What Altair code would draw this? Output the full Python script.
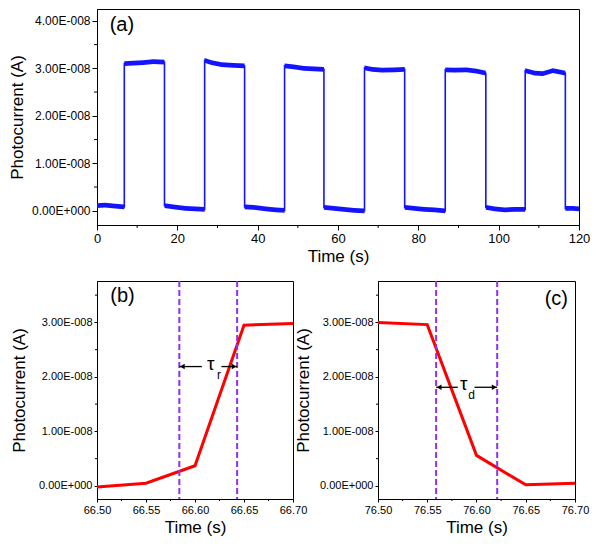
import altair as alt
import pandas as pd

# ---------------- data (photocurrent in units of 1E-8 A) ----------------
# Panel (a): on/off plateau segments – times (s) and band-centre values
seg_times = [
    [0.0, 2.0, 4.5, 6.8],
    [6.8, 9.0, 11.5, 14.0, 16.8],
    [16.8, 19.0, 22.0, 24.5, 26.8],
    [26.8, 28.5, 31.0, 34.0, 36.75],
    [36.75, 39.0, 42.0, 44.5, 46.7],
    [46.7, 49.0, 51.5, 54.0, 56.5],
    [56.5, 59.0, 61.5, 64.0, 66.6],
    [66.6, 68.5, 71.0, 74.0, 76.6],
    [76.6, 79.0, 81.5, 84.0, 86.7],
    [86.7, 89.0, 92.0, 94.5, 96.8],
    [96.8, 99.0, 101.5, 104.0, 106.6],
    [106.6, 109.0, 111.0, 113.5, 116.6],
    [116.6, 118.5, 120.0],
]
seg_values = [
    [0.11, 0.12, 0.10, 0.08],
    [3.10, 3.11, 3.12, 3.14, 3.13],
    [0.11, 0.08, 0.05, 0.04, 0.03],
    [3.17, 3.12, 3.08, 3.06, 3.05],
    [0.08, 0.07, 0.04, 0.02, 0.01],
    [3.05, 3.03, 3.00, 2.99, 2.98],
    [0.07, 0.05, 0.03, 0.01, 0.00],
    [3.01, 2.98, 2.96, 2.97, 2.98],
    [0.07, 0.05, 0.03, 0.02, 0.00],
    [2.97, 2.96, 2.97, 2.94, 2.90],
    [0.07, 0.04, 0.02, 0.03, 0.03],
    [2.95, 2.90, 2.89, 2.95, 2.90],
    [0.05, 0.05, 0.04],
]
noise_half = 0.05  # half-thickness of the noise band

# Panel (b): rise
rise_t = [66.50, 66.55, 66.60, 66.65, 66.70]
rise_v = [-0.02, 0.05, 0.37, 2.95, 2.98]
rise_marks = [66.584, 66.643]
rise_arrow_y = 2.19
rise_arrow_left = [66.584, 66.607]
rise_arrow_right = [66.627, 66.643]

# Panel (c): decay
fall_t = [76.50, 76.55, 76.60, 76.65, 76.70]
fall_v = [3.00, 2.96, 0.56, 0.02, 0.05]
fall_marks = [76.559, 76.621]
fall_arrow_y = 1.81
fall_arrow_left = [76.559, 76.581]
fall_arrow_right = [76.598, 76.621]

# ticks
top_x_major = [0, 20, 40, 60, 80, 100, 120]
top_x_minor = [10, 30, 50, 70, 90, 110]
top_y_major = [0, 1, 2, 3, 4]
y_minor = [0.5, 1.5, 2.5, 3.5]
b_x_major = [66.50, 66.55, 66.60, 66.65, 66.70]
b_x_minor = [66.525, 66.575, 66.625, 66.675]
c_x_major = [76.50, 76.55, 76.60, 76.65, 76.70]
c_x_minor = [76.525, 76.575, 76.625, 76.675]
b_y_major = [0, 1, 2, 3]

FONT = "Liberation Sans"
BLUE = "#1414ff"
RED = "#ff0000"
PURPLE = "#9030f5"
LABEL_EXPR = "datum.value == 0 ? '0.00E+000' : format(datum.value, '.2f') + 'E-008'"


def make_axes(xvals, yvals, xfmt, xlab, ylab, tick, ytitlepad, xtitlepad):
    xax = alt.Axis(values=xvals, format=xfmt, title="Time (s)", grid=False,
                   labelFont=FONT, titleFont=FONT, labelFontSize=xlab,
                   titleFontSize=17, titleFontWeight="normal", labelColor="black",
                   titleColor="black", domainColor="black", tickColor="black",
                   tickSize=tick, labelPadding=2, titlePadding=xtitlepad,
                   labelFlush=False, labelOverlap=False)
    yax = alt.Axis(values=yvals, labelExpr=LABEL_EXPR, title="Photocurrent (A)",
                   grid=False, labelFont=FONT, titleFont=FONT, labelFontSize=ylab,
                   titleFontSize=17, titleFontWeight="normal", labelColor="black",
                   titleColor="black", domainColor="black", tickColor="black",
                   tickSize=tick, labelPadding=2, titlePadding=ytitlepad,
                   labelFlush=False, labelOverlap=False)
    return xax, yax


def minor_layers(xminor, yminor, xsc, ysc, xax, yax, h, size):
    mx = alt.Chart(pd.DataFrame({"t": xminor})).mark_rule(color="black").encode(
        x=alt.X("t:Q", scale=xsc, axis=xax),
        y=alt.value(h), y2=alt.value(h + size))
    my = alt.Chart(pd.DataFrame({"v": yminor})).mark_rule(color="black").encode(
        y=alt.Y("v:Q", scale=ysc, axis=yax),
        x=alt.value(-size), x2=alt.value(0))
    return [mx, my]


# ---------------- panel (a) ----------------
rows_line, rows_band = [], []
k = 0
for s, (ts, vs) in enumerate(zip(seg_times, seg_values)):
    for t, v in zip(ts, vs):
        rows_line.append({"t": t, "v": v, "o": k})
        rows_band.append({"t": t, "lo": v - noise_half, "hi": v + noise_half, "seg": s})
        k += 1
df_line = pd.DataFrame(rows_line)
df_band = pd.DataFrame(rows_band)

TW, TH = 482, 216
xsa = alt.Scale(domain=[0, 120], nice=False, zero=False)
ysa = alt.Scale(domain=[-0.3, 4.25], nice=False, zero=False)
xa, ya = make_axes(top_x_major, top_y_major, "d", 13, 12, 5, 5, 3)

band = alt.Chart(df_band).mark_area(color=BLUE, opacity=1).encode(
    x=alt.X("t:Q", scale=xsa, axis=xa),
    y=alt.Y("lo:Q", scale=ysa, axis=ya),
    y2="hi:Q", detail="seg:N")
line_a = alt.Chart(df_line).mark_line(color=BLUE, strokeWidth=1.6).encode(
    x=alt.X("t:Q", scale=xsa, axis=xa),
    y=alt.Y("v:Q", scale=ysa, axis=ya),
    order="o:Q")
lab_a = alt.Chart(pd.DataFrame({"t": [6.2], "v": [3.91], "s": ["(a)"]})).mark_text(
    font=FONT, fontSize=20, color="black").encode(
    x=alt.X("t:Q", scale=xsa, axis=xa), y=alt.Y("v:Q", scale=ysa, axis=ya), text="s:N")

top = alt.layer(band, line_a, lab_a,
                *minor_layers(top_x_minor, y_minor, xsa, ysa, xa, ya, TH, 3)
                ).properties(width=TW, height=TH)


# ---------------- panels (b) and (c) ----------------
def transient(ts, vs, marks, ay, aleft, aright, xdom, xmaj, xmin, sub, tau_x, sub_x,
              label, lab_x, lab_y, w, h, ytitlepad):
    xs = alt.Scale(domain=xdom, nice=False, zero=False)
    ys = alt.Scale(domain=[-0.24, 3.76], nice=False, zero=False)
    xax, yax = make_axes(xmaj, b_y_major, ".2f", 11, 11, 3, ytitlepad, 4)
    X = lambda f: alt.X(f, scale=xs, axis=xax)
    Y = lambda f: alt.Y(f, scale=ys, axis=yax)
    curve = alt.Chart(pd.DataFrame({"t": ts, "v": vs})).mark_line(
        color=RED, strokeWidth=3).encode(x=X("t:Q"), y=Y("v:Q"))
    dashed = alt.Chart(pd.DataFrame({"t": marks})).mark_rule(
        color=PURPLE, strokeWidth=2, strokeDash=[6, 3]).encode(
        x=X("t:Q"), y=alt.value(0), y2=alt.value(h))
    segs = alt.Chart(pd.DataFrame({"t": [aleft[0], aright[0]], "t2": [aleft[1], aright[1]],
                                   "v": [ay, ay]})).mark_rule(
        color="black", strokeWidth=1.3).encode(x=X("t:Q"), x2="t2:Q", y=Y("v:Q"))
    head_l = alt.Chart(pd.DataFrame({"t": [aleft[0]], "v": [ay]})).mark_point(
        shape="triangle-left", filled=True, color="black", size=30, opacity=1,
        xOffset=3).encode(x=X("t:Q"), y=Y("v:Q"))
    head_r = alt.Chart(pd.DataFrame({"t": [aright[1]], "v": [ay]})).mark_point(
        shape="triangle-right", filled=True, color="black", size=30, opacity=1,
        xOffset=-3).encode(x=X("t:Q"), y=Y("v:Q"))
    tau = alt.Chart(pd.DataFrame({"t": [tau_x], "v": [ay], "s": ["τ"]})).mark_text(
        font=FONT, fontSize=19, color="black", dy=-3).encode(
        x=X("t:Q"), y=Y("v:Q"), text="s:N")
    subs = alt.Chart(pd.DataFrame({"t": [sub_x], "v": [ay], "s": [sub]})).mark_text(
        font=FONT, fontSize=12, color="black", dy=8).encode(
        x=X("t:Q"), y=Y("v:Q"), text="s:N")
    lab = alt.Chart(pd.DataFrame({"t": [lab_x], "v": [lab_y], "s": [label]})).mark_text(
        font=FONT, fontSize=20, color="black").encode(
        x=X("t:Q"), y=Y("v:Q"), text="s:N")
    return alt.layer(curve, dashed, segs, head_l, head_r, tau, subs, lab,
                     *minor_layers(xmin, y_minor, xs, ys, xax, yax, h, 2)
                     ).properties(width=w, height=h)


BH = 218
panel_b = transient(rise_t, rise_v, rise_marks, rise_arrow_y, rise_arrow_left,
                    rise_arrow_right, [66.50, 66.70], b_x_major, b_x_minor, "r",
                    66.616, 66.6245, "(b)", 66.526, 3.48, 196, BH, 10)
panel_c = transient(fall_t, fall_v, fall_marks, fall_arrow_y, fall_arrow_left,
                    fall_arrow_right, [76.50, 76.70], c_x_major, c_x_minor, "d",
                    76.587, 76.595, "(c)", 76.681, 3.43, 197, BH, 7)

bottom = alt.hconcat(panel_b, panel_c, spacing=85, bounds="flush")
chart = alt.vconcat(top, bottom, spacing=56, bounds="flush").configure_view(
    stroke="black", strokeWidth=1).properties(padding=0)

chart.save("out.html", embed_options={"renderer": "svg", "actions": False})
